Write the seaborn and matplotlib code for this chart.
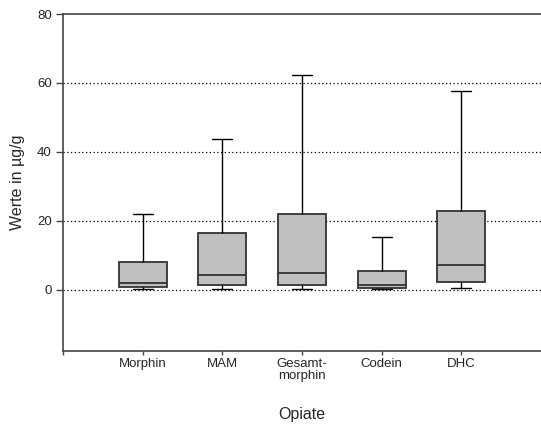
import numpy as np
import pandas as pd
import matplotlib
matplotlib.use("Agg")
import matplotlib.pyplot as plt
import seaborn as sns

categories = ["Morphin", "MAM", "Gesamt-\nmorphin", "Codein", "DHC"]
mins    = [0.3, 0.2, 0.3, 0.1, 0.5]
q1s     = [0.7, 1.3, 1.3, 0.5, 2.1]
medians = [1.9, 4.2, 4.7, 1.3, 7.1]
q3s     = [8.0, 16.4, 22.0, 5.5, 22.7]
maxs    = [22.0, 43.8, 62.2, 15.2, 57.7]
yticks = [0, 20, 40, 60, 80]
gridlines = [0, 20, 40, 60]

rows = []
for c, a, b, m, d, e in zip(categories, mins, q1s, medians, q3s, maxs):
    for v in (a, b, m, d, e):
        rows.append({"Opiate": c, "Wert": v})
df = pd.DataFrame(rows)

sns.set_theme(style="white")
plt.rcParams['font.family'] = ['Liberation Sans', 'DejaVu Sans']

fig = plt.figure(figsize=(5.41, 4.25), dpi=100)
ax = fig.add_axes([0.1165, 0.175, 0.8835, 0.792])

for g in gridlines:
    ax.axhline(g, linestyle=(0, (1, 2)), color="black", linewidth=0.9, zorder=0)

sns.boxplot(data=df, x="Opiate", y="Wert", order=categories, whis=(0, 100),
            width=0.6, color="#c0c0c0", saturation=1, ax=ax,
            boxprops=dict(edgecolor="#333333", linewidth=1.3),
            medianprops=dict(color="#333333", linewidth=1.3),
            whiskerprops=dict(color="black", linewidth=1.0),
            capprops=dict(color="black", linewidth=1.0),
            showfliers=False)

# narrow the caps slightly
for ln in ax.lines:
    xd = np.asarray(ln.get_xdata(), dtype=float)
    yd = np.asarray(ln.get_ydata(), dtype=float)
    if len(xd) == 2 and np.isclose(yd[0], yd[1]):
        w = abs(xd[1] - xd[0])
        if 0.05 < w < 0.5:
            c = xd.mean()
            ln.set_xdata([c - 0.125, c + 0.125])

ax.set_xlim(-1, 5)
ax.set_ylim(-17.7, 80)
ax.set_yticks(yticks)
ax.set_yticklabels([str(t) for t in yticks], fontsize=9.5)
ax.set_xticks([-1, 0, 1, 2, 3, 4])
ax.set_xticklabels([""] + categories, fontsize=9.5, linespacing=1.0)

for s in ["left", "bottom", "top"]:
    ax.spines[s].set_visible(True)
    ax.spines[s].set_color("#444444")
    ax.spines[s].set_linewidth(1.2)
ax.spines["right"].set_visible(False)

ax.tick_params(axis="y", direction="out", length=5, width=1, color="#444444", left=True, pad=3)
ax.tick_params(axis="x", direction="out", length=3, width=1, color="#444444", bottom=True, pad=2)

ax.set_xlabel("Opiate", fontsize=11.5, labelpad=18)
ax.set_ylabel("Werte in µg/g", fontsize=11.5, labelpad=9)

fig.savefig("out.png", dpi=100)
